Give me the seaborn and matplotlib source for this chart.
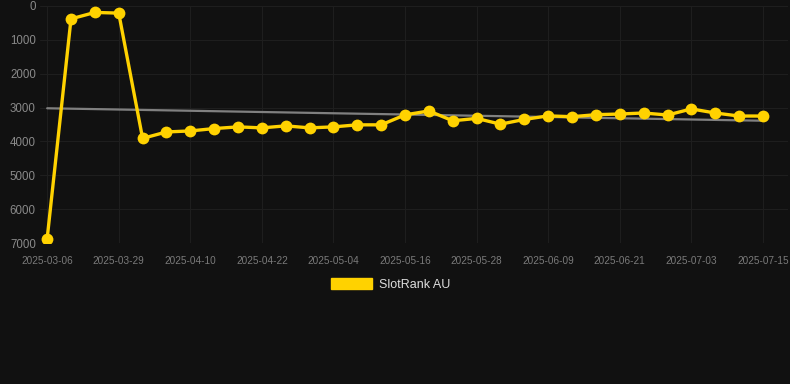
import matplotlib
matplotlib.use("Agg")
import matplotlib.pyplot as plt
from matplotlib.patches import Patch
import numpy as np
import pandas as pd
import seaborn as sns

# ---- data ----
dates = [
    "2025-03-06", "2025-03-13", "2025-03-21", "2025-03-29", "2025-04-02", "2025-04-06",
    "2025-04-10", "2025-04-14", "2025-04-18", "2025-04-22", "2025-04-26", "2025-04-30",
    "2025-05-04", "2025-05-08", "2025-05-12", "2025-05-16", "2025-05-20", "2025-05-24",
    "2025-05-28", "2025-06-01", "2025-06-05", "2025-06-09", "2025-06-13", "2025-06-17",
    "2025-06-21", "2025-06-25", "2025-06-29", "2025-07-03", "2025-07-07", "2025-07-11",
    "2025-07-15",
]
rank = [
    6870, 380, 190, 210, 3910, 3720, 3690, 3620, 3570, 3600, 3540, 3600, 3570, 3510, 3510,
    3215, 3100, 3390, 3320, 3490, 3350, 3245, 3270, 3210, 3190, 3160, 3220, 3040, 3160,
    3250, 3250,
]
series_name = "SlotRank AU"
y_ticks = [0, 1000, 2000, 3000, 4000, 5000, 6000, 7000]

df = pd.DataFrame({"idx": np.arange(len(dates)), "date": dates, "rank": rank})

BG = "#111111"
GOLD = "#FFD200"
GRID = "#1e1e1e"

sns.set_theme(style="dark")
plt.rcParams["font.family"] = ["Liberation Sans", "DejaVu Sans"]

fig = plt.figure(figsize=(7.9, 3.84), dpi=100, facecolor=BG)
ax = fig.add_axes([40 / 790, 1 - 243 / 384, (788 - 40) / 790, (243 - 6) / 384])
ax.set_facecolor(BG)

# trend line (linear regression)
sns.regplot(data=df, x="idx", y="rank", scatter=False, ci=None, ax=ax,
            color="#808080", line_kws={"linewidth": 1.6, "zorder": 2})

sns.lineplot(data=df, x="idx", y="rank", ax=ax, color=GOLD, linewidth=2.4,
             marker="o", markersize=8.5, markeredgewidth=0, zorder=3)

ax.set_ylim(7000, 0)
ax.set_xlim(-0.3, 31.05)
ax.set_yticks(y_ticks)
ax.set_yticklabels([str(v) for v in y_ticks], fontsize=8.3, color="#8a8a8a")
tick_idx = list(range(0, len(dates), 3))
ax.set_xticks(tick_idx)
ax.set_xticklabels([dates[i] for i in tick_idx], fontsize=7.2, color="#7a7a7a")
ax.tick_params(axis="both", length=0)
ax.tick_params(axis="y", pad=3)
ax.tick_params(axis="x", pad=9)

ax.grid(True, color=GRID, linewidth=0.8)
for s in ax.spines.values():
    s.set_visible(False)
ax.set_xlabel("")
ax.set_ylabel("")

handle = Patch(facecolor=GOLD, edgecolor=GOLD)
fig.legend([handle], [series_name], loc="center", bbox_to_anchor=(0.494, 0.26),
           frameon=False, fontsize=9, labelcolor="#dddddd",
           handlelength=3.33, handleheight=1.0, handletextpad=0.5)

fig.savefig("out.png", dpi=100, facecolor=BG)
